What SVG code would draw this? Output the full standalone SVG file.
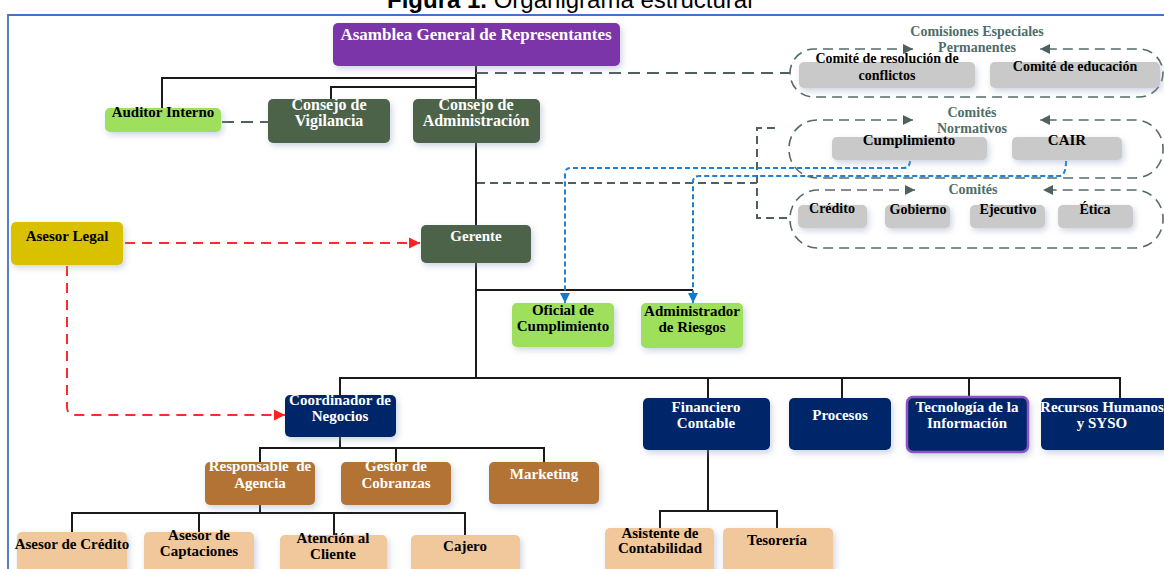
<svg xmlns="http://www.w3.org/2000/svg" width="1164" height="569" viewBox="0 0 1164 569">
<defs>
<filter id="sh" x="-20%" y="-20%" width="150%" height="160%">
<feDropShadow dx="2" dy="3" stdDeviation="3" flood-color="#8FA0BF" flood-opacity="0.45"/>
</filter>
<marker id="ar" viewBox="0 0 10 10" refX="10" refY="5" markerWidth="11" markerHeight="12" markerUnits="userSpaceOnUse" orient="auto"><path d="M0,0 L10,5 L0,10 z" fill="#FF2020"/></marker>
<marker id="ab" viewBox="0 0 10 10" refX="10" refY="5" markerWidth="10" markerHeight="11" markerUnits="userSpaceOnUse" orient="auto"><path d="M0,0 L10,5 L0,10 z" fill="#1478CC"/></marker>
<marker id="ag" viewBox="0 0 10 10" refX="10" refY="5" markerWidth="14" markerHeight="10" markerUnits="userSpaceOnUse" orient="auto-start-reverse"><path d="M0,0 L10,5 L0,10 z" fill="#4F615E"/></marker>
</defs>
<style>
.t{font-family:"Liberation Serif",serif;font-weight:bold;font-size:15px;text-anchor:middle}
.w{fill:#fff}
.k{fill:#000}
.lab{fill:#4E6E6A;font-size:14px}
.c{font-size:14px}
.big{font-size:17px}
.m16{font-size:16px}
.box{filter:url(#sh)}
.purple{fill:#7B36A9}
.dg{fill:#4D6349}
.lg{fill:#9EE05C}
.yl{fill:#D9C100}
.nv{fill:#06266A}
.br{fill:#B27334}
.pc{fill:#F0C89C}
.gy{fill:#C9C9C9}
.solid{fill:none;stroke:#1a1a1a;stroke-width:2}
.gd{fill:none;stroke:#4F615E;stroke-width:2;stroke-dasharray:12 7}
.gd2{fill:none;stroke:#4F615E;stroke-width:2;stroke-dasharray:8 5}
.rd{fill:none;stroke:#FF2A2A;stroke-width:2;stroke-dasharray:10 7}
.bd{fill:none;stroke:#1E80D0;stroke-width:2;stroke-dasharray:5 3}
.ct{fill:none;stroke:#56696A;stroke-width:1.6;stroke-dasharray:10 6}
</style>
<rect width="1164" height="569" fill="#fff"/>
<text x="387" y="8" font-family="Liberation Sans, Arial, sans-serif" font-size="24" fill="#000"><tspan font-weight="bold">Figura 1.</tspan> Organigrama estructural</text>
<path d="M8 569 V15 H1164" fill="none" stroke="#4472C4" stroke-width="1.8"/>

<g id="connectors">
<path class="solid" d="M476 66 V100"/>
<path class="solid" d="M476 78 H162 V108"/>
<path class="solid" d="M476 87 H331 V99"/>
<path class="solid" d="M476 143 V225"/>
<path class="solid" d="M476 263 V378"/>
<path class="solid" d="M476 290 H693"/>
<path class="solid" d="M340 395 V378 H1120 V398 M708 378 V398 M842 378 V398 M969 378 V397"/>
<path class="solid" d="M340 437 V448 M260 462 V448 H544 V462 M396 448 V462"/>
<path class="solid" d="M260 505 V513 M72 532 V513 H465 V535 M199 513 V532 M334 513 V535"/>
<path class="solid" d="M708 450 V511 M660 528 V511 H777 V528"/>
<path class="gd" d="M476 73 H790"/>
<path class="gd" d="M222 122 H268"/>
<path class="gd2" d="M477 183 H757 M775 128 H757 V218 H790"/>
<path class="rd" d="M125 243 H420" marker-end="url(#ar)"/>
<path class="rd" d="M67 266 V407 Q67 415 75 415 H285" marker-end="url(#ar)"/>
<path class="bd" d="M910 161 Q910 168 903 168 H571 Q565 168 565 174 V303" marker-end="url(#ab)"/>
<path class="bd" d="M1066 161 Q1066 176 1059 176 H699 Q693 176 693 182 V303" marker-end="url(#ab)"/>
</g>

<g id="comisiones-especiales">
<path class="ct" d="M913 49 H814 A24 24 0 0 0 790 73 A24 24 0 0 0 814 97 H1139 A24 24 0 0 0 1163 73 A24 24 0 0 0 1139 49 H1040" marker-start="url(#ag)" marker-end="url(#ag)"/>
<text class="t lab" x="977" y="36">Comisiones Especiales</text>
<text class="t lab" x="977" y="52">Permanentes</text>
</g>
<g id="comite-resolucion"><rect class="box gy" x="799" y="62" width="176" height="26" rx="5"/><text class="t k c" x="887" y="63">Comité de resolución de</text><text class="t k c" x="887" y="80">conflictos</text></g>
<g id="comite-educacion"><rect class="box gy" x="990" y="62" width="170" height="26" rx="5"/><text class="t k c" x="1075" y="71">Comité de educación</text></g>

<g id="comites-normativos">
<path class="ct" d="M913 120 H817 A28 28 0 0 0 789 148 V150 A28 28 0 0 0 817 178 H1135 A28 28 0 0 0 1163 150 V148 A28 28 0 0 0 1135 120 H1040" marker-start="url(#ag)" marker-end="url(#ag)"/>
<text class="t lab" x="972" y="117">Comités</text>
<text class="t lab" x="972" y="133">Normativos</text>
</g>
<g id="cumplimiento"><rect class="box gy" x="832" y="137" width="155" height="23" rx="5"/><text class="t k" x="909" y="145">Cumplimiento</text></g>
<g id="cair"><rect class="box gy" x="1012" y="137" width="110" height="23" rx="5"/><text class="t k" x="1067" y="145">CAIR</text></g>

<g id="comites">
<path class="ct" d="M915 190 H818 A28 28 0 0 0 790 218 V220 A28 28 0 0 0 818 248 H1135 A28 28 0 0 0 1163 220 V218 A28 28 0 0 0 1135 190 H1043" marker-start="url(#ag)" marker-end="url(#ag)"/>
<text class="t lab" x="973" y="194">Comités</text>
</g>
<g id="credito"><rect class="box gy" x="798" y="205" width="69" height="23" rx="5"/><text class="t k c" x="832" y="213">Crédito</text></g>
<g id="gobierno"><rect class="box gy" x="885" y="205" width="65" height="23" rx="5"/><text class="t k c" x="918" y="214">Gobierno</text></g>
<g id="ejecutivo"><rect class="box gy" x="970" y="205" width="75" height="23" rx="5"/><text class="t k c" x="1008" y="214">Ejecutivo</text></g>
<g id="etica"><rect class="box gy" x="1058" y="205" width="75" height="23" rx="5"/><text class="t k c" x="1095" y="214">Ética</text></g>

<g id="asamblea"><rect class="box purple" x="333" y="23" width="287" height="43" rx="5"/><text class="t w big" x="476" y="40">Asamblea General de Representantes</text></g>
<g id="auditor"><rect class="box lg" x="105" y="108" width="116" height="24" rx="5"/><text class="t k" x="163" y="117">Auditor Interno</text></g>
<g id="vigilancia"><rect class="box dg" x="268" y="99" width="122" height="44" rx="5"/><text class="t w m16" x="329" y="110">Consejo de</text><text class="t w m16" x="329" y="126">Vigilancia</text></g>
<g id="administracion"><rect class="box dg" x="413" y="99" width="127" height="44" rx="5"/><text class="t w m16" x="476" y="110">Consejo de</text><text class="t w m16" x="476" y="126">Administración</text></g>
<g id="gerente"><rect class="box dg" x="421" y="225" width="110" height="38" rx="5"/><text class="t w" x="476" y="241">Gerente</text></g>
<g id="asesor-legal"><rect class="box yl" x="11" y="222" width="112" height="43" rx="5"/><text class="t k" x="67" y="241">Asesor Legal</text></g>
<g id="oficial"><rect class="box lg" x="512" y="303" width="102" height="44" rx="5"/><text class="t k" x="563" y="315">Oficial de</text><text class="t k" x="563" y="331">Cumplimiento</text></g>
<g id="riesgos"><rect class="box lg" x="641" y="303" width="102" height="45" rx="5"/><text class="t k" x="692" y="316">Administrador</text><text class="t k" x="692" y="332">de Riesgos</text></g>
<g id="coordinador"><rect class="box nv" x="285" y="395" width="111" height="42" rx="5"/><text class="t w" x="340" y="405">Coordinador de</text><text class="t w" x="340" y="421">Negocios</text></g>
<g id="financiero"><rect class="box nv" x="643" y="398" width="127" height="52" rx="5"/><text class="t w" x="706" y="412">Financiero</text><text class="t w" x="706" y="428">Contable</text></g>
<g id="procesos"><rect class="box nv" x="789" y="398" width="102" height="52" rx="5"/><text class="t w" x="840" y="420">Procesos</text></g>
<g id="tecnologia"><rect class="box nv" x="907" y="397" width="121" height="55" rx="6" stroke="#8E52C4" stroke-width="2.5"/><text class="t w" x="967" y="412">Tecnología de la</text><text class="t w" x="967" y="428">Información</text></g>
<g id="rrhh"><rect class="box nv" x="1041" y="398" width="127" height="52" rx="5"/><text class="t w" x="1102" y="412">Recursos Humanos</text><text class="t w" x="1102" y="428">y SYSO</text></g>
<g id="responsable"><rect class="box br" x="205" y="462" width="110" height="43" rx="5"/><text class="t w" x="260" y="471" style="white-space:pre">Responsable  de</text><text class="t w" x="260" y="488">Agencia</text></g>
<g id="gestor"><rect class="box br" x="341" y="462" width="110" height="43" rx="5"/><text class="t w" x="396" y="471">Gestor de</text><text class="t w" x="396" y="488">Cobranzas</text></g>
<g id="marketing"><rect class="box br" x="489" y="462" width="110" height="42" rx="5"/><text class="t w" x="544" y="479">Marketing</text></g>
<g id="asesor-credito"><rect class="box pc" x="17" y="532" width="110" height="45" rx="5"/><text class="t k" x="72" y="549">Asesor de Crédito</text></g>
<g id="captaciones"><rect class="box pc" x="144" y="532" width="110" height="45" rx="5"/><text class="t k" x="199" y="540">Asesor de</text><text class="t k" x="199" y="556">Captaciones</text></g>
<g id="atencion"><rect class="box pc" x="280" y="535" width="107" height="42" rx="5"/><text class="t k" x="333" y="543">Atención al</text><text class="t k" x="333" y="559">Cliente</text></g>
<g id="cajero"><rect class="box pc" x="411" y="535" width="109" height="42" rx="5"/><text class="t k" x="465" y="551">Cajero</text></g>
<g id="asistente"><rect class="box pc" x="605" y="528" width="109" height="49" rx="5"/><text class="t k" x="660" y="538">Asistente de</text><text class="t k" x="660" y="553">Contabilidad</text></g>
<g id="tesoreria"><rect class="box pc" x="723" y="528" width="110" height="49" rx="5"/><text class="t k" x="777" y="545">Tesorería</text></g>
</svg>
